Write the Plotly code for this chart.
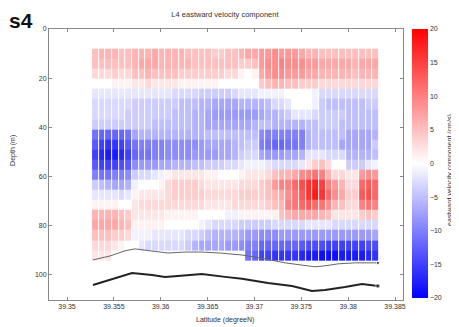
import plotly.graph_objects as go
import numpy as np

# ---- data ----
lat = [39.35303, 39.35374, 39.35445, 39.35516, 39.35588, 39.35659, 39.35730, 39.35801,
       39.35872, 39.35943, 39.36015, 39.36086, 39.36157, 39.36228, 39.36299, 39.36371,
       39.36442, 39.36513, 39.36584, 39.36655, 39.36727, 39.36798, 39.36869, 39.36940,
       39.37011, 39.37083, 39.37154, 39.37225, 39.37296, 39.37367, 39.37439, 39.37510,
       39.37581, 39.37652, 39.37723, 39.37795, 39.37866, 39.37937, 39.38008, 39.38079,
       39.38151, 39.38222, 39.38293]
depth = [10.05, 14.15, 18.25, 22.35, 26.45, 30.55, 34.65, 38.75, 42.85, 46.95, 51.05,
         55.15, 59.25, 63.35, 67.45, 71.55, 75.65, 79.75, 83.85, 87.95, 92.05]
N = None
u = [
 [5,6,6,6,5,5, 6,6,6,7,6, 6,6, 6,5,5,5, 5,4,4,5,5, 6,7,7, 8,8, 9,8,8, 8,7, 6,6, 5,5,5,5, 5,5, 5,5, 5],
 [5,5,5,5,5,5, 6,7,7,7,6, 6,6, 6,6,5,5, 5,5,5,5,5, 4,4,5, 8,9, 9,10,9, 9,9, 8,8, 7,7,7,7, 7,6, 7,7, 7],
 [3,3,3,4,3,3, 5,5,6,5,5, 5,5, 4,4,4,4, 4,4,4,3,3, 1,0,1, 7,8, 9,9,8, 8,8, 7,7, 6,6,6,6, 6,5, 6,6, 6],
 [0,0,0,1,1,1, 2,2,3,2,2, 2,2, 1,1,1,1, 1,1,0,0,0, 0,0,0, 4,5, 6,6,5, 5,4, 4,4, 3,3,3,3, 3,3, 3,3, 3],
 [-2,-2,-2,-2,-2,-2, -2,-2,-2,-2,-2, -2,-3, -3,-3,-3,-4, -4,-4,-4,-4,-3, -2,-2,-2, -1,-1, -1,-1,0, 0,0, 0,-1, -3,-3,-3,-3, -3,-3, -3,-3, -3],
 [-3,-3,-3,-3,-3,-3, -4,-4,-4,-4,-4, -4,-4, -5,-5,-5,-6, -6,-7,-7,-7,-7, -6,-6,-6, -6,-5, -3,-3,-2, 0,0, 0,-1, -4,-5,-5,-5, -5,-5, -5,-4, -4],
 [-3,-3,-3,-3,-3,-4, -4,-4,-4,-4,-4, -4,-5, -5,-5,-6,-6, -7,-8,-8,-8,-8, -8,-8,-8, -7,-6, -6,-5,-4, -2,-2, -2,-3, -4,-4,-4,-4, -5,-5, -5,-5, -5],
 [-4,-4,-4,-4,-4,-4, -4,-4,-4,-5,-5, -5,-5, -5,-5,-6,-6, -7,-7,-7,-7,-7, -7,-7,-6, -5,-5, -6,-6,-6, -6,-6, -5,-5, -4,-4,-4,-5, -5,-5, -5,-5, -5],
 [-11,-12,-12,-12,-12,-11, -7,-6,-6,-6,-6, -6,-6, -6,-6,-6,-6, -5,-5,-5,-5,-5, -5,-5,-5, -9,-10, -10,-10,-10, -10,-10, -6,-5, -5,-5,-5,-5, -7,-7, -7,-7, -6],
 [-13,-15,-16,-16,-15,-13, -11,-10,-10,-10,-10, -9,-9, -9,-9,-9,-8, -7,-7,-7,-7,-6, -5,-4,-4, -10,-11, -12,-12,-11, -11,-10, -6,-5, -5,-5,-5,-7, -7,-7, -7,-7, -4],
 [-15,-17,-18,-18,-17,-15, -12,-11,-11,-10,-10, -9,-9, -9,-9,-8,-8, -8,-8,-7,-7,-6, -4,-3,-3, -7,-8, -8,-8,-7, -7,-6, -2,-2, -2,-3,-3,-3, -6,-6, -6,-6, -5],
 [-13,-15,-15,-15,-14,-13, -9,-8,-8,-8,-7, -7,-6, -6,-6,-5,-5, -4,-4,-4,-3,-3, -2,-1,-1, -1,-2, -3,-3,-3, -3,-2, 2,4, 5,3,0,0, -4,-4, -4,-2, -1],
 [-10,-11,-11,-10,-10,-9, -4,-3,-3,-2,-1, 1,2, 2,2,2,2, 1,1,0,0,0, 1,2,2, 2,3, 5,6,6, 7,9, 10,11, 10,6,3,3, 2,2, 8,9, 8],
 [-4,-5,-6,-7,-7,-6, -1,0,0,0,1, 3,4, 4,4,4,3, 2,2,2,2,2, 3,3,3, 4,5, 8,10,10, 12,14, 16,17, 15,10,8,6, 3,3, 12,13, 12],
 [-2,-2,-2,-2,-3,-2, 1,2,2,2,2, 3,4, 4,4,4,4, 3,3,3,3,3, 4,4,4, 4,5, 6,7,9, 11,13, 16,18, 16,12,9,7, 4,4, 13,14, 12],
 [1,1,1,1,0,0, 2,3,3,3,3, 3,3, 3,3,3,3, 2,2,2,2,3, 3,3,3, 3,4, 5,6,10, 11,12, 13,12, 11,9,6,5, 3,3, 10,11, 10],
 [6,6,6,6,5,4, 2,2,2,2,2, 1,1, 1,1,1,0, 0,0,0,-1,-1, 1,1,1, 1,1, 1,5,6, 7,7, 7,7, 6,5,2,2, 2,2, 4,5, 4],
 [7,7,7,7,6,5, 1,1,1,1,1, 0,0, 0,0,0,-1, -2,-3,-3,-3,-3, -4,-4,-4, -4,-4, -3,-3,-3, -3,-3, -2,-2, -2,-2,-3,-3, -3,-3, -3,-3, -3],
 [5,5,5,4,4,3, -1,-1,-1,-2,-2, -2,-2, -2,-3,-3,-4, -5,-6,-6,-6,-6, -7,-8,-8, -9,-9, -9,-8,-8, -8,-8, -8,-8, -8,-8,-8,-8, -8,-8, -8,-8, -7],
 [3,3,3,2,1,0, 0,-2,-3,-3,-3, -3,-3, -3,-4,-6,-7, -7,-7,-7,-8,-8, -9,-10,-10, -12,-12, -12,-12,-12, -12,-13, -14,-14, -14,-15,-15,-15, -15,-15, -15,-14, -14],
 [2,2,2,N,N,N, N,N,N,N,N, N,N, N,N,N,N, N,N,N,N,N, N,-11,-12, -15,-15, -16,-16,-16, -16,-17, -18,-18, -19,-19,-19,-18, -18,-18, -18,-17, -16],
]

# range of valid data (thin line) and sea floor (thick line)
lim_lat = [39.35277, 39.35459, 39.35619, 39.35726, 39.35886, 39.36078, 39.36259, 39.36440,
           39.36633, 39.36761, 39.36867, 39.37059, 39.37326, 39.37486, 39.37646, 39.37753,
           39.37892, 39.38073, 39.38318]
lim_depth = [93.9, 92.3, 90.2, 89.4, 90.2, 91.1, 90.7, 90.7, 91.1, 91.5, 91.9, 93.1, 95.1,
             95.9, 96.7, 96.3, 95.5, 95.1, 95.1]
bot_lat = [39.35277, 39.35480, 39.35694, 39.35907, 39.36046, 39.36184, 39.36440, 39.36686,
           39.36867, 39.37145, 39.37401, 39.37614, 39.37753, 39.37966, 39.38148, 39.38318]
bot_depth = [104.1, 101.6, 99.2, 100.0, 100.8, 100.4, 99.6, 100.8, 101.6, 103.3, 104.5,
             106.5, 106.1, 104.9, 103.7, 104.5]

xticks = [39.35, 39.355, 39.36, 39.365, 39.37, 39.375, 39.38, 39.385]
xticklabels = ["39.35", "39.355", "39.36", "39.365", "39.37", "39.375", "39.38", "39.385"]
yticks = [0, 20, 40, 60, 80, 100]
cticks = [-20, -15, -10, -5, 0, 5, 10, 15, 20]

FONT = "Liberation Sans, Arial, sans-serif"
TXT = "#333333"
AX = "#888888"

z = np.array([[np.nan if v is None else v for v in row] for row in u], dtype=float)

fig = go.Figure()
fig.add_trace(go.Heatmap(
    x=lat, y=depth, z=z, zmin=-20, zmax=20, xgap=1,
    colorscale=[[0, "rgb(0,0,255)"], [0.5, "rgb(255,255,255)"], [1, "rgb(255,0,0)"]],
    hoverongaps=False,
    colorbar=dict(
        x=1.0254, xanchor="left", y=0.5037, yanchor="middle",
        thickness=16, thicknessmode="pixels", len=269, lenmode="pixels",
        xpad=0, ypad=0, outlinewidth=0, ticks="", tickvals=cticks,
        tickfont=dict(family=FONT, size=7, color=TXT),
    ),
))
fig.add_trace(go.Scatter(x=lim_lat, y=lim_depth, mode="lines",
                         line=dict(color="#666666", width=1), showlegend=False))
fig.add_trace(go.Scatter(x=bot_lat, y=bot_depth, mode="lines",
                         line=dict(color="#222222", width=2), showlegend=False))
fig.add_trace(go.Scatter(x=[lim_lat[-1], bot_lat[-1]], y=[lim_depth[-1], bot_depth[-1]],
                         mode="markers", marker=dict(symbol="square", size=[3, 4], color="#111111"),
                         showlegend=False))

axis_common = dict(showline=True, linecolor=AX, linewidth=1, mirror="ticks",
                   ticks="inside", ticklen=3, tickcolor=AX, showgrid=False, zeroline=False,
                   tickfont=dict(family=FONT, size=7, color=TXT))
fig.update_xaxes(range=[39.34808, 39.38585], tickvals=xticks, ticktext=xticklabels, **axis_common)
fig.update_yaxes(range=[110.2, 0], tickvals=yticks, **axis_common)

# the page body adds an 8px offset, so the figure is 8px smaller on each side
fig.update_layout(
    width=451, height=319, margin=dict(l=41, r=56, t=21, b=27, autoexpand=False),
    paper_bgcolor="white", plot_bgcolor="white", showlegend=False,
    title=dict(text="L4 eastward velocity component", xref="paper", x=0.497, xanchor="center",
               y=0.9812, yanchor="middle", font=dict(family=FONT, size=7.5, color=TXT)),
    annotations=[
        dict(text="<b>s4</b>", xref="paper", yref="paper", x=-0.0800, y=1.031,
             xanchor="center", yanchor="middle", showarrow=False,
             font=dict(family=FONT, size=21, color="#111111")),
        dict(text="Depth (m)", xref="paper", yref="paper", x=-0.1020, y=0.5535,
             xanchor="center", yanchor="middle", textangle=-90, showarrow=False,
             font=dict(family=FONT, size=7, color=TXT)),
        dict(text="Latitude (degreeN)", xref="paper", yref="paper", x=0.497, y=-0.0738,
             xanchor="center", yanchor="middle", showarrow=False,
             font=dict(family=FONT, size=7, color=TXT)),
        dict(text="eastward velocity component (cm/s)", xref="paper", yref="paper",
             x=1.1328, y=0.48, xanchor="center", yanchor="middle", textangle=-90,
             showarrow=False, font=dict(family=FONT, size=7, color=TXT)),
    ],
)
fig.write_html("out.html")
